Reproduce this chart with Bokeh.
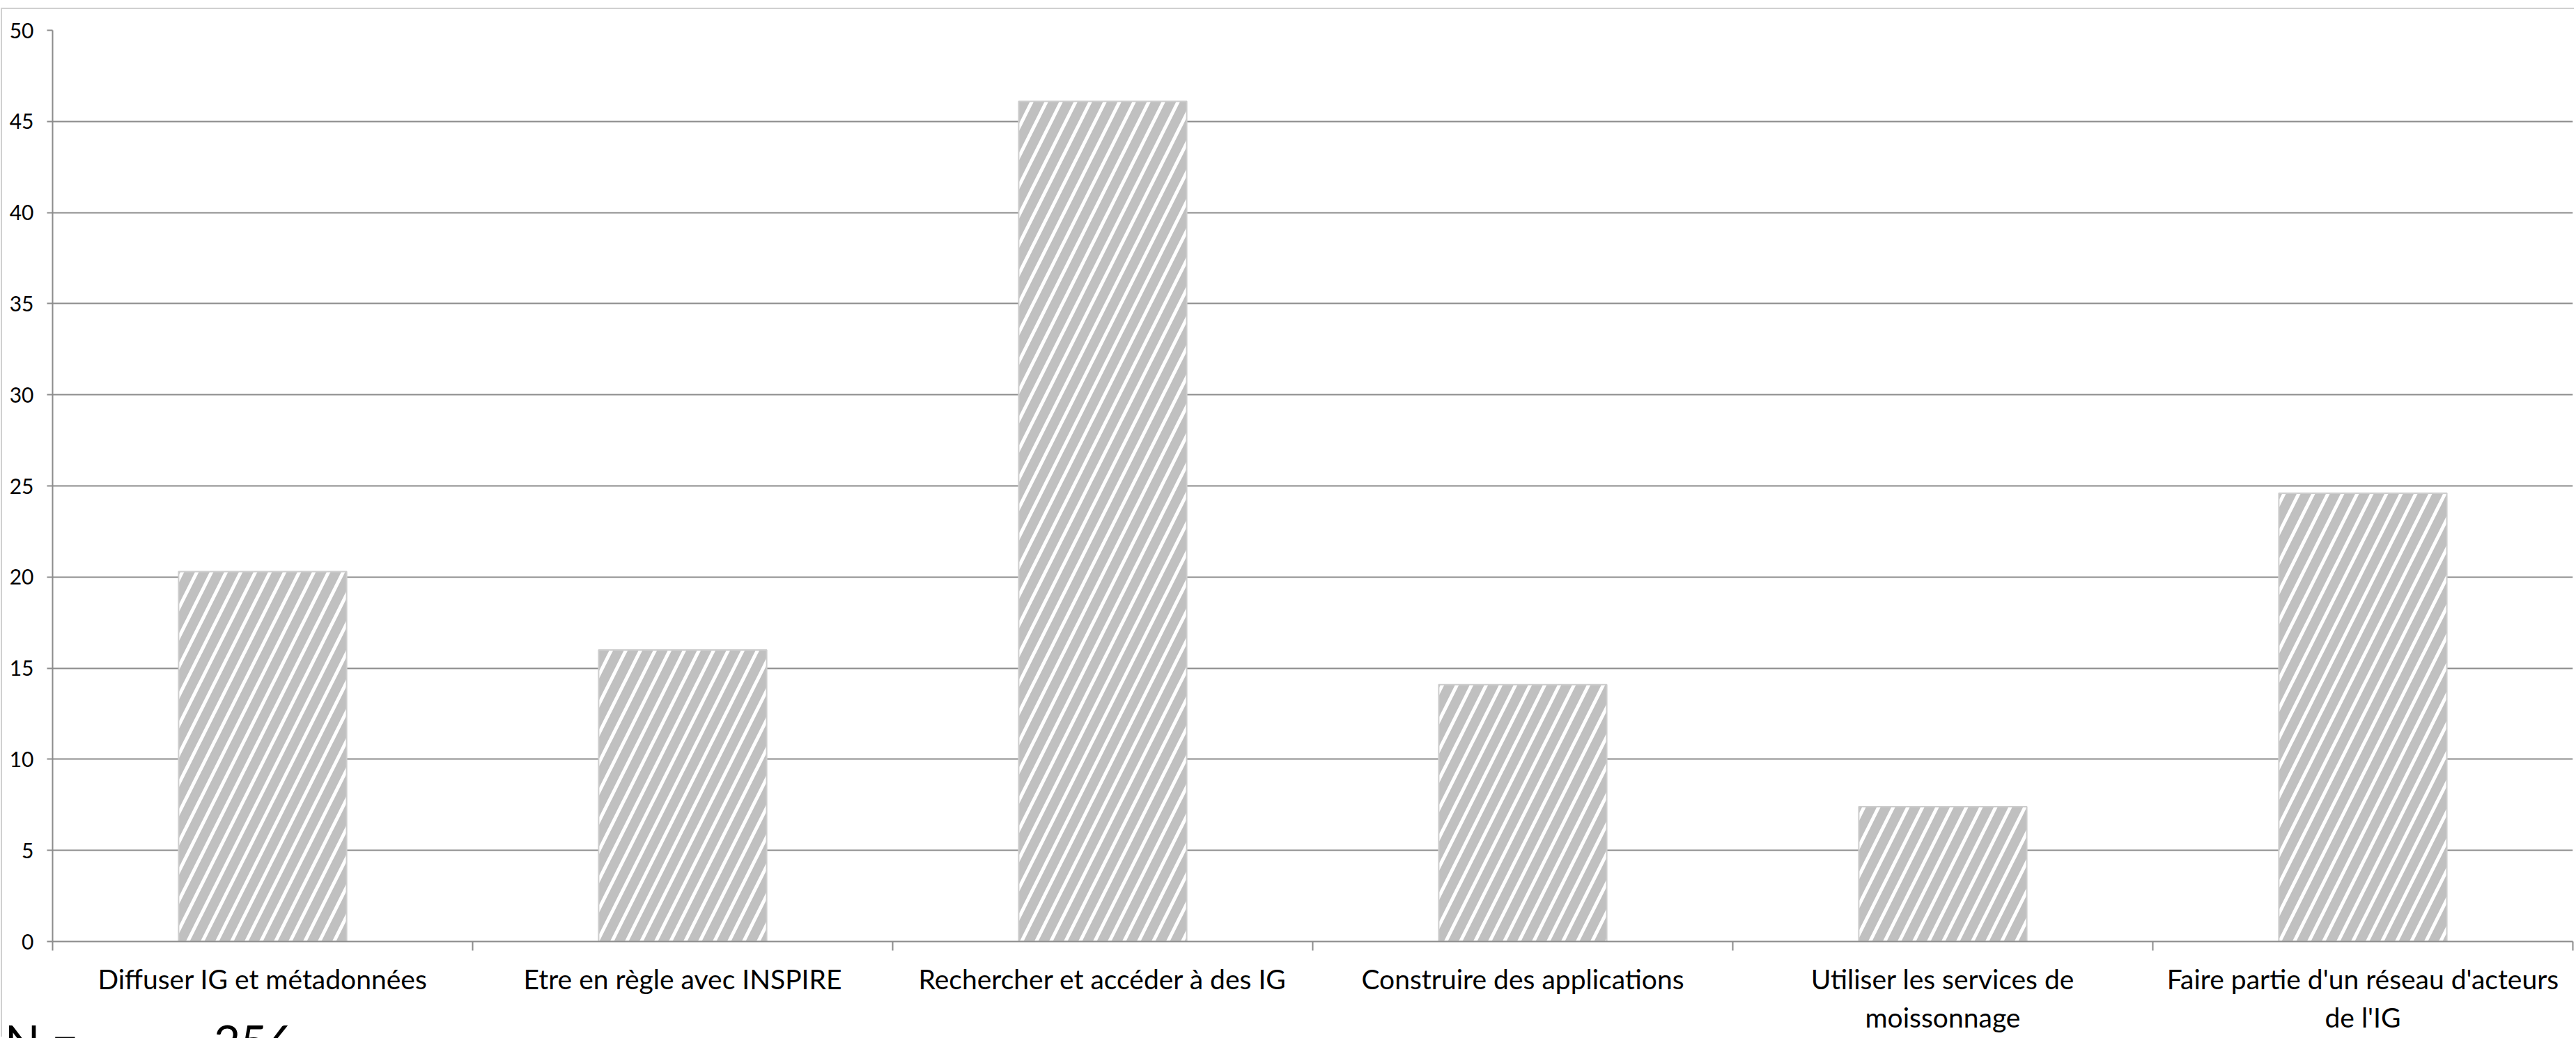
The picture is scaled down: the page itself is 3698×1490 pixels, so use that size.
from bokeh.plotting import figure
from bokeh.models import FixedTicker, Range1d, ColumnDataSource, Div
from bokeh.layouts import column
from bokeh.embed import file_html
from bokeh.resources import INLINE

# ---- data ----
categories = [
    "Diffuser IG et métadonnées",
    "Etre en règle avec INSPIRE",
    "Rechercher et accéder à des IG",
    "Construire des applications",
    "Utiliser les services de\nmoissonnage",
    "Faire partie d'un réseau d'acteurs\nde l'IG",
]
values = [20.3, 16.0, 46.1, 14.1, 7.4, 24.6]
y_ticks = [0, 5, 10, 15, 20, 25, 30, 35, 40, 45, 50]
n_prefix = "N ="
n_total = "256"

FONT = "Lato"
GRID = "#8c8c8c"

n = len(categories)
centers = [i + 0.5 for i in range(n)]
bounds = [float(i) for i in range(n + 1)]

p = figure(
    width=3694, height=1477,
    x_range=Range1d(0, n), y_range=Range1d(0, 50),
    output_backend="svg", toolbar_location=None,
    min_border_left=72, min_border_right=4,
    min_border_top=30, min_border_bottom=139,
)
p.styles = {"border-top": "2px solid #d0d0d0", "border-left": "2px solid #d0d0d0",
            "margin-top": "11px", "margin-left": "1px"}
p.outline_line_color = None
p.background_fill_color = "white"
p.border_fill_color = "white"

src = ColumnDataSource(dict(x=centers, top=values, cat=categories))
p.vbar(x="x", top="top", width=0.4, bottom=0, source=src,
       fill_color="#c0c0c0", line_color="#cdcdcd", line_width=2,
       hatch_pattern="/", hatch_color="white", hatch_scale=42, hatch_weight=5)

# grid
p.xgrid.visible = False
p.ygrid.ticker = FixedTicker(ticks=y_ticks)
p.ygrid.grid_line_color = GRID
p.ygrid.grid_line_width = 2

# y axis
p.yaxis.ticker = FixedTicker(ticks=y_ticks)
p.yaxis.axis_line_color = GRID
p.yaxis.axis_line_width = 2
p.yaxis.major_tick_line_color = GRID
p.yaxis.major_tick_line_width = 2
p.yaxis.major_tick_in = 0
p.yaxis.major_tick_out = 8
p.yaxis.minor_tick_line_color = None
p.yaxis.major_label_text_font = FONT
p.yaxis.major_label_text_font_size = "30px"
p.yaxis.major_label_text_color = "black"
p.yaxis.major_label_standoff = 19

# x axis: labels at centers, ticks at category boundaries
p.xaxis.ticker = FixedTicker(ticks=centers, minor_ticks=bounds)
p.xaxis.major_label_overrides = {c: lab for c, lab in zip(centers, categories)}
p.xaxis.axis_line_color = GRID
p.xaxis.axis_line_width = 2
p.xaxis.major_tick_line_color = None
p.xaxis.major_tick_in = 0
p.xaxis.major_tick_out = 0
p.xaxis.minor_tick_line_color = GRID
p.xaxis.minor_tick_line_width = 2
p.xaxis.minor_tick_in = 0
p.xaxis.minor_tick_out = 13
p.xaxis.major_label_text_font = FONT
p.xaxis.major_label_text_font_size = "39px"
p.xaxis.major_label_text_color = "black"
p.xaxis.major_label_standoff = 17

# "N = 256" note at the bottom left, cut by the bottom edge as in the original
span_style = "position:absolute;top:0;font-family:Lato;font-size:66px;line-height:66px;color:black;white-space:nowrap;"
note = Div(
    text=(f'<span style="{span_style}left:0px">{n_prefix}</span>'
          f'<span style="{span_style}left:300px">{n_total}</span>'),
    width=520, height=34,
    styles={"position": "absolute", "left": "2px", "top": "1456px",
            "overflow": "hidden"},
)

layout = column(p, note)
open("out.html", "w").write(file_html(layout, INLINE))
